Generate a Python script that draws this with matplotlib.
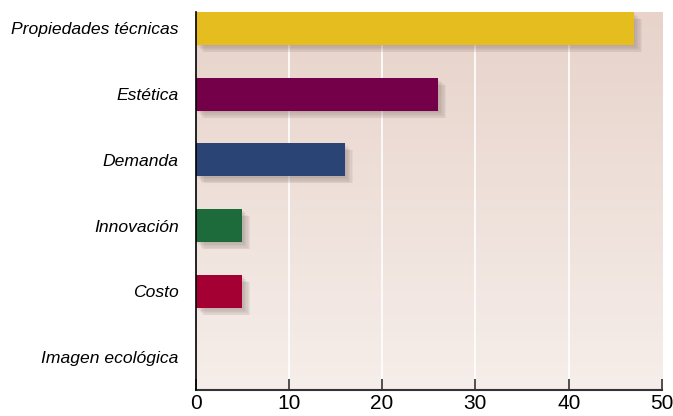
import matplotlib
matplotlib.use("Agg")
import matplotlib.pyplot as plt
import matplotlib.patheffects as pe
import numpy as np
from matplotlib.colors import LinearSegmentedColormap

categories = ["Propiedades técnicas", "Estética", "Demanda", "Innovación", "Costo", "Imagen ecológica"]
values = [47, 26, 16, 5, 5, 0]
colors = ["#e6bd1f", "#74004a", "#2b4476", "#1d6b3a", "#a50034", "#999999"]
xticks = [0, 10, 20, 30, 40, 50]

fam = "Liberation Sans"

fig = plt.figure(figsize=(6.73, 4.16), dpi=100)
ax = fig.add_axes([195.5/673, 26/416, (662-195.5)/673, (390-12)/416])

ylim = (5.5, -0.25)
cmap = LinearSegmentedColormap.from_list("bg", ["#e7d3ca", "#f6eeea"])
grad = np.linspace(0, 1, 256).reshape(-1, 1)
ax.imshow(grad, cmap=cmap, aspect="auto", extent=(0, 50, 5.5, -0.25), zorder=0)

for x in xticks[1:-1]:
    ax.axvline(x, color="white", lw=1.2, zorder=1)

pos = np.arange(len(categories))
bars = ax.barh(pos, values, height=0.5, color=colors, zorder=3)
shadow = []
for dx, dy in [(1, -1), (2, -2), (3, -3), (4, -4), (5, -5), (6, -5)]:
    shadow.append(pe.SimplePatchShadow(offset=(dx, dy), shadow_rgbFace="#6e5a55", alpha=0.07))
for b in bars:
    if b.get_width() > 0:
        b.set_path_effects(shadow + [pe.Normal()])

ax.set_xlim(0, 50)
ax.set_ylim(*ylim)
ax.set_yticks(pos)
ax.set_yticklabels(categories, fontsize=12.6, fontstyle="italic", family=fam)
ax.tick_params(axis="y", length=0, pad=12)
ax.set_xticks(xticks)
ax.set_xticklabels([str(t) for t in xticks], fontsize=15, family=fam)
ax.tick_params(axis="x", direction="in", length=8, width=1.2, color="#333333", pad=3)
for s in ["top", "right"]:
    ax.spines[s].set_visible(False)
ax.spines["left"].set_color("black")
ax.spines["left"].set_linewidth(1.2)
ax.spines["bottom"].set_color("#333333")
ax.spines["bottom"].set_linewidth(1.5)
ax.spines["left"].set_zorder(5)

fig.savefig("out.png", dpi=100)
